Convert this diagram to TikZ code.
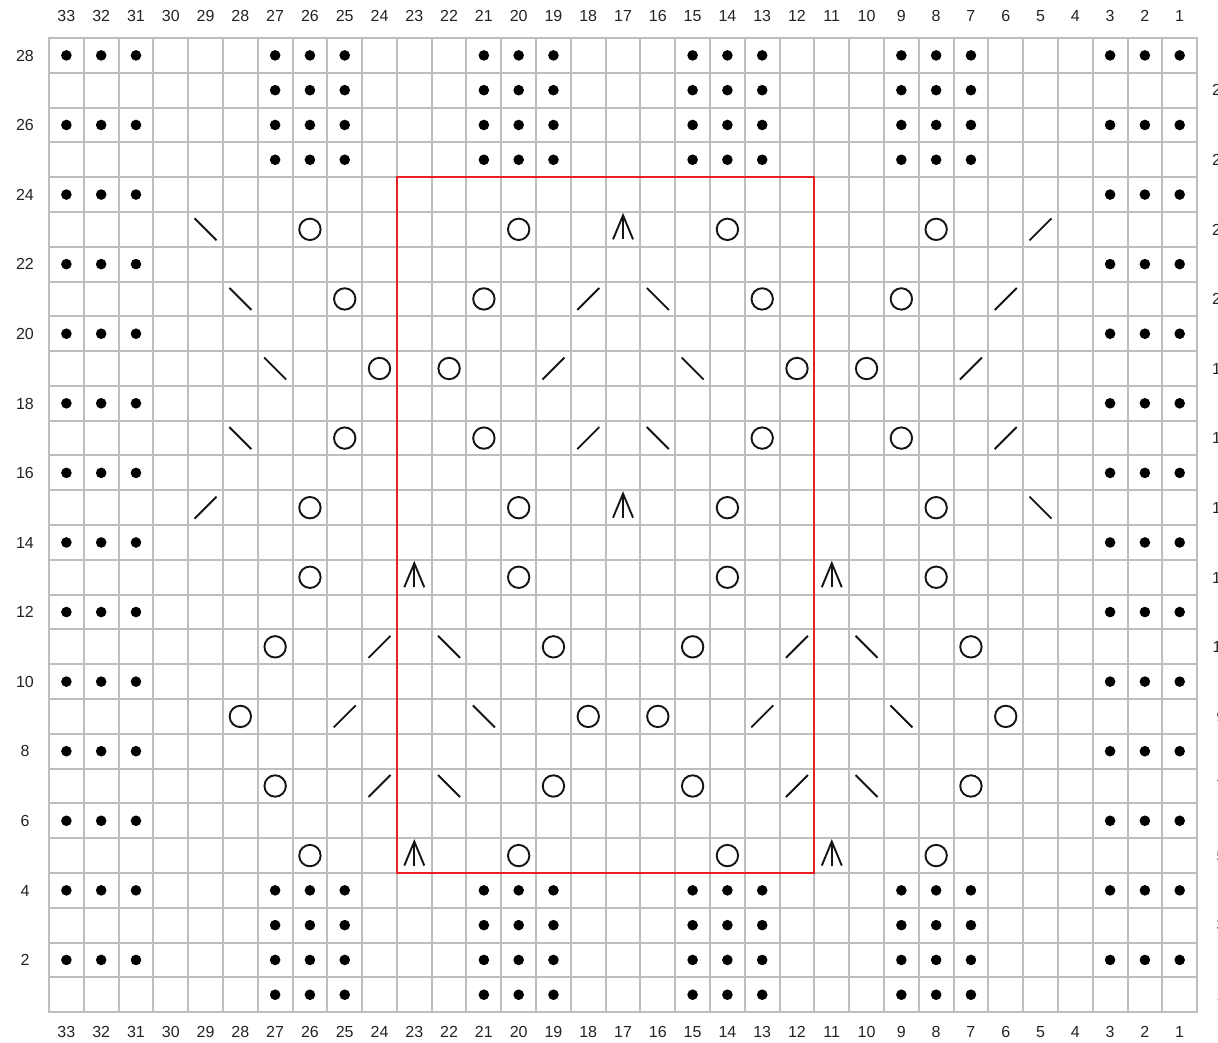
\documentclass[tikz,border=0pt]{standalone}
\usepackage{fontspec}
\setmainfont{Liberation Sans}
\definecolor{gridgray}{RGB}{190,190,190}
\definecolor{chartred}{RGB}{232,32,36}
\definecolor{labelgray}{RGB}{35,35,35}
\begin{document}
\begin{tikzpicture}[x=1pt,y=-1pt,
  gridline/.style={draw=gridgray,line width=2,line cap=rect},
  redline/.style={draw=chartred,line width=1.9},
  sym/.style={line width=1.9,draw=black!92},
  lbl/.style={font=\fontsize{16}{19}\selectfont,text=labelgray,inner sep=0pt,anchor=center,text height=11.5pt,text depth=0pt},
  purl/.pic={\fill[black] (0,0) circle[radius=5.3];},
  yo/.pic={\draw[sym] (0,0) circle[radius=10.7];},
  kk/.pic={\draw[sym] (-11,11) -- (11,-11);},
  ss/.pic={\draw[sym] (-11,-11) -- (11,11);},
  cdd/.pic={\draw[sym,line join=miter] (-10,10) -- (0,-14) -- (10,10); \draw[sym] (0,-14) -- (0,10);}
]
\useasboundingbox (0,0) rectangle (1218,1042);
% grid
\foreach \i in {0,...,33}
  \draw[gridline] ({49+\i*34.79},38) -- ({49+\i*34.79},1012);
\foreach \j in {0,...,28}
  \draw[gridline] (49,{38+\j*34.79}) -- (1197,{38+\j*34.79});
% purl dots
\foreach \r in {6,8,...,24,2,4,26,28}
  \foreach \c in {33,32,31,3,2,1}
    \pic at ({49+(33.5-\c)*34.79},{38+(28.5-\r)*34.79}) {purl};
\foreach \r in {1,2,3,4,25,26,27,28}
  \foreach \c in {27,26,25,21,20,19,15,14,13,9,8,7}
    \pic at ({49+(33.5-\c)*34.79},{38+(28.5-\r)*34.79}) {purl};
% lace symbols
\foreach \r/\items in {
  23/{ss/29,yo/26,yo/20,cdd/17,yo/14,yo/8,kk/5},
  21/{ss/28,yo/25,yo/21,kk/18,ss/16,yo/13,yo/9,kk/6},
  19/{ss/27,yo/24,yo/22,kk/19,ss/15,yo/12,yo/10,kk/7},
  17/{ss/28,yo/25,yo/21,kk/18,ss/16,yo/13,yo/9,kk/6},
  15/{kk/29,yo/26,yo/20,cdd/17,yo/14,yo/8,ss/5},
  13/{yo/26,cdd/23,yo/20,yo/14,cdd/11,yo/8},
  11/{yo/27,kk/24,ss/22,yo/19,yo/15,kk/12,ss/10,yo/7},
  9/{yo/28,kk/25,ss/21,yo/18,yo/16,kk/13,ss/9,yo/6},
  7/{yo/27,kk/24,ss/22,yo/19,yo/15,kk/12,ss/10,yo/7},
  5/{yo/26,cdd/23,yo/20,yo/14,cdd/11,yo/8}}
  \foreach \t/\c in \items
    \pic at ({49+(33.5-\c)*34.79},{38+(28.5-\r)*34.79}) {\t};
% red repeat box
\coordinate (boxtl) at ({49+10*34.79},{38+4*34.79});
\coordinate (boxbr) at ({49+22*34.79},{38+24*34.79});
\draw[redline] (boxtl) rectangle (boxbr);
% column numbers
\foreach \c in {1,...,33} {
  \node[lbl] (top\c) at ({49+(33.5-\c)*34.79},16) {\c};
  \node[lbl] (bot\c) at ({49+(33.5-\c)*34.79},1032) {\c};
}
% row numbers
\foreach \r in {2,4,...,28}
  \node[lbl] (left\r) at (25,{38+(28.5-\r)*34.79}) {\r};
\foreach \r in {1,3,...,27}
  \node[lbl] (right\r) at (1221,{38+(28.5-\r)*34.79}) {\r};
\end{tikzpicture}
\end{document}
